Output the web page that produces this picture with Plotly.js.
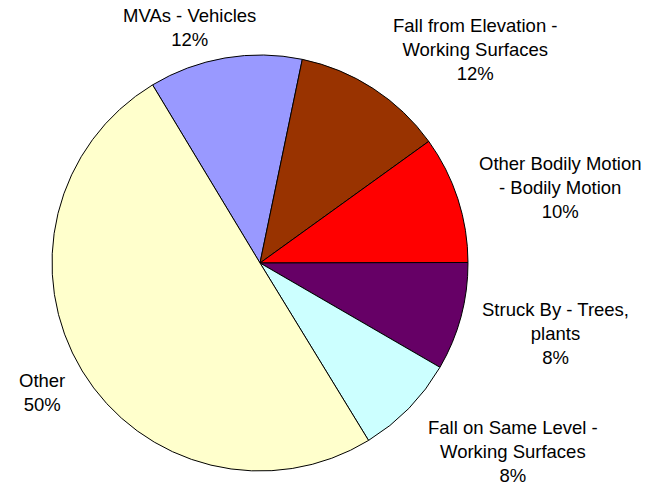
<!DOCTYPE html>
<html>
<head>
<meta charset="utf-8">
<script src="https://cdn.plot.ly/plotly-3.0.1.min.js"></script>
<style>
  html, body { margin: 0; padding: 0; background: #fff; }
  #chart { width: 664px; height: 486px; }
</style>
</head>
<body>
<div id="chart"></div>
<script>
  // slices, clockwise from the MVAs edge
  var categories = ['MVAs - Vehicles', 'Fall from Elevation -<br>Working Surfaces',
    'Other Bodily Motion<br>- Bodily Motion', 'Struck By - Trees,<br>plants',
    'Fall on Same Level -<br>Working Surfaces', 'Other'];
  var shares = [11.9, 11.8, 9.9, 8.4, 7.9, 50.1];
  var colours = ['#9999FF', '#993300', '#FF0000', '#660066', '#CCFFFF', '#FFFFCC'];

  // where each label sits on the page (pixels, centre of the text block)
  var labelX = [189, 475, 560, 555, 513, 42];
  var labelY = [27, 49, 187, 333, 451, 392];

  var W = 664, H = 486;
  var total = shares.reduce(function(a, b) { return a + b; }, 0);

  var notes = [];
  for (var i = 0; i < categories.length; i++) {
    notes.push({
      text: categories[i] + '<br>' + Math.round(shares[i] / total * 100) + '%',
      x: labelX[i] / W, y: 1 - labelY[i] / H,
      xref: 'paper', yref: 'paper',
      xanchor: 'center', yanchor: 'middle', align: 'center',
      showarrow: false,
      font: {family: 'Liberation Sans, Arial, sans-serif', size: 18.5, color: '#000'}
    });
  }

  var trace = {
    type: 'pie',
    labels: categories,
    values: shares,
    sort: false,
    direction: 'clockwise',
    rotation: -31.1,
    textinfo: 'none',
    hoverinfo: 'label+percent',
    marker: {colors: colours, line: {color: '#000', width: 1}},
    domain: {x: [52 / W, 468 / W], y: [15 / H, 431 / H]}
  };

  var layout = {
    width: W, height: H,
    margin: {l: 0, r: 0, t: 0, b: 0},
    showlegend: false,
    paper_bgcolor: '#fff',
    annotations: notes
  };

  Plotly.newPlot('chart', [trace], layout, {displayModeBar: false});
</script>
</body>
</html>
